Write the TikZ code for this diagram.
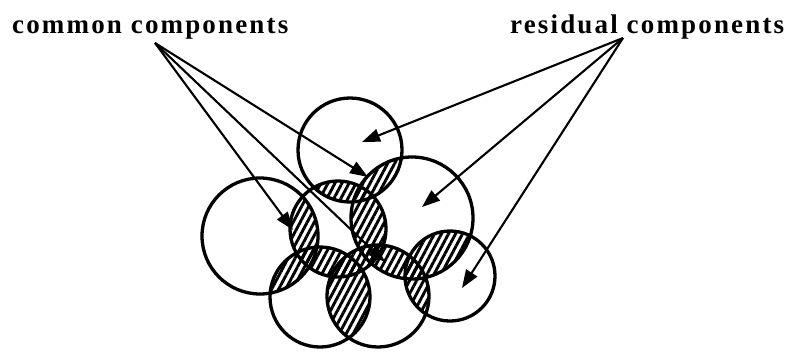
\documentclass[tikz,border=0pt]{standalone}
\usepackage{fontspec}
\setmainfont{Liberation Serif}
\usetikzlibrary{arrows.meta,patterns.meta}
\tikzset{
  comprim/.style={draw=black, line width=3.3pt},
  comphatch/.style={pattern={Lines[angle=62,distance=6.2pt,line width=2.9pt]}},
  complabel/.style={font=\bfseries\fontsize{27}{30}\selectfont
    \addfontfeature{LetterSpace=8}, anchor=base west, inner sep=0pt},
  comparrow/.style={-{Triangle[length=18pt,width=13pt]}, line width=2.1pt},
}

\begin{document}
\begin{tikzpicture}[x=1pt,y=-1pt]
  \useasboundingbox (0,0) rectangle (791,351);

  % centres of the seven components
  \coordinate (cA) at (350,150);
  \coordinate (cB) at (412,218);
  \coordinate (cC) at (260,236);
  \coordinate (cD) at (338,229);
  \coordinate (cE) at (320,297);
  \coordinate (cF) at (378,296);
  \coordinate (cH) at (450,276);

  % hatched overlaps (pairwise intersections)
  \foreach \a/\ra/\b/\rb in {A/52/B/61, A/52/D/48, B/61/D/48, B/61/F/51,
    B/61/H/45, C/58/D/48, C/58/E/50, D/48/E/50, D/48/F/51, E/50/F/51,
    F/51/H/45}{
    \begin{scope}
      \clip (c\a) circle[radius=\ra pt];
      \fill[comphatch] (c\b) circle[radius=\rb pt];
    \end{scope}
  }

  % circle outlines
  \foreach \n/\r in {A/52, B/61, C/58, D/48, E/50, F/51, H/45}
    \draw[comprim] (c\n) circle[radius=\r pt];

  % labels
  \node[complabel] (ccLabel) at (12,33) {common components};
  \node[complabel] (rcLabel) at (510,33) {residual components};
  \coordinate (ccApex) at (155,43);
  \coordinate (rcApex) at (623,38);

  % arrow tips
  \coordinate (tipCD) at (293,230);
  \coordinate (tipAB) at (368,177);
  \coordinate (tipBF) at (385,262);
  \coordinate (tipA) at (362,142);
  \coordinate (tipB) at (422,207);
  \coordinate (tipH) at (462,288);

  \foreach \t in {tipCD, tipAB, tipBF}
    \draw[comparrow] (ccApex) -- (\t);
  \foreach \t in {tipA, tipB, tipH}
    \draw[comparrow] (rcApex) -- (\t);
\end{tikzpicture}
\end{document}
